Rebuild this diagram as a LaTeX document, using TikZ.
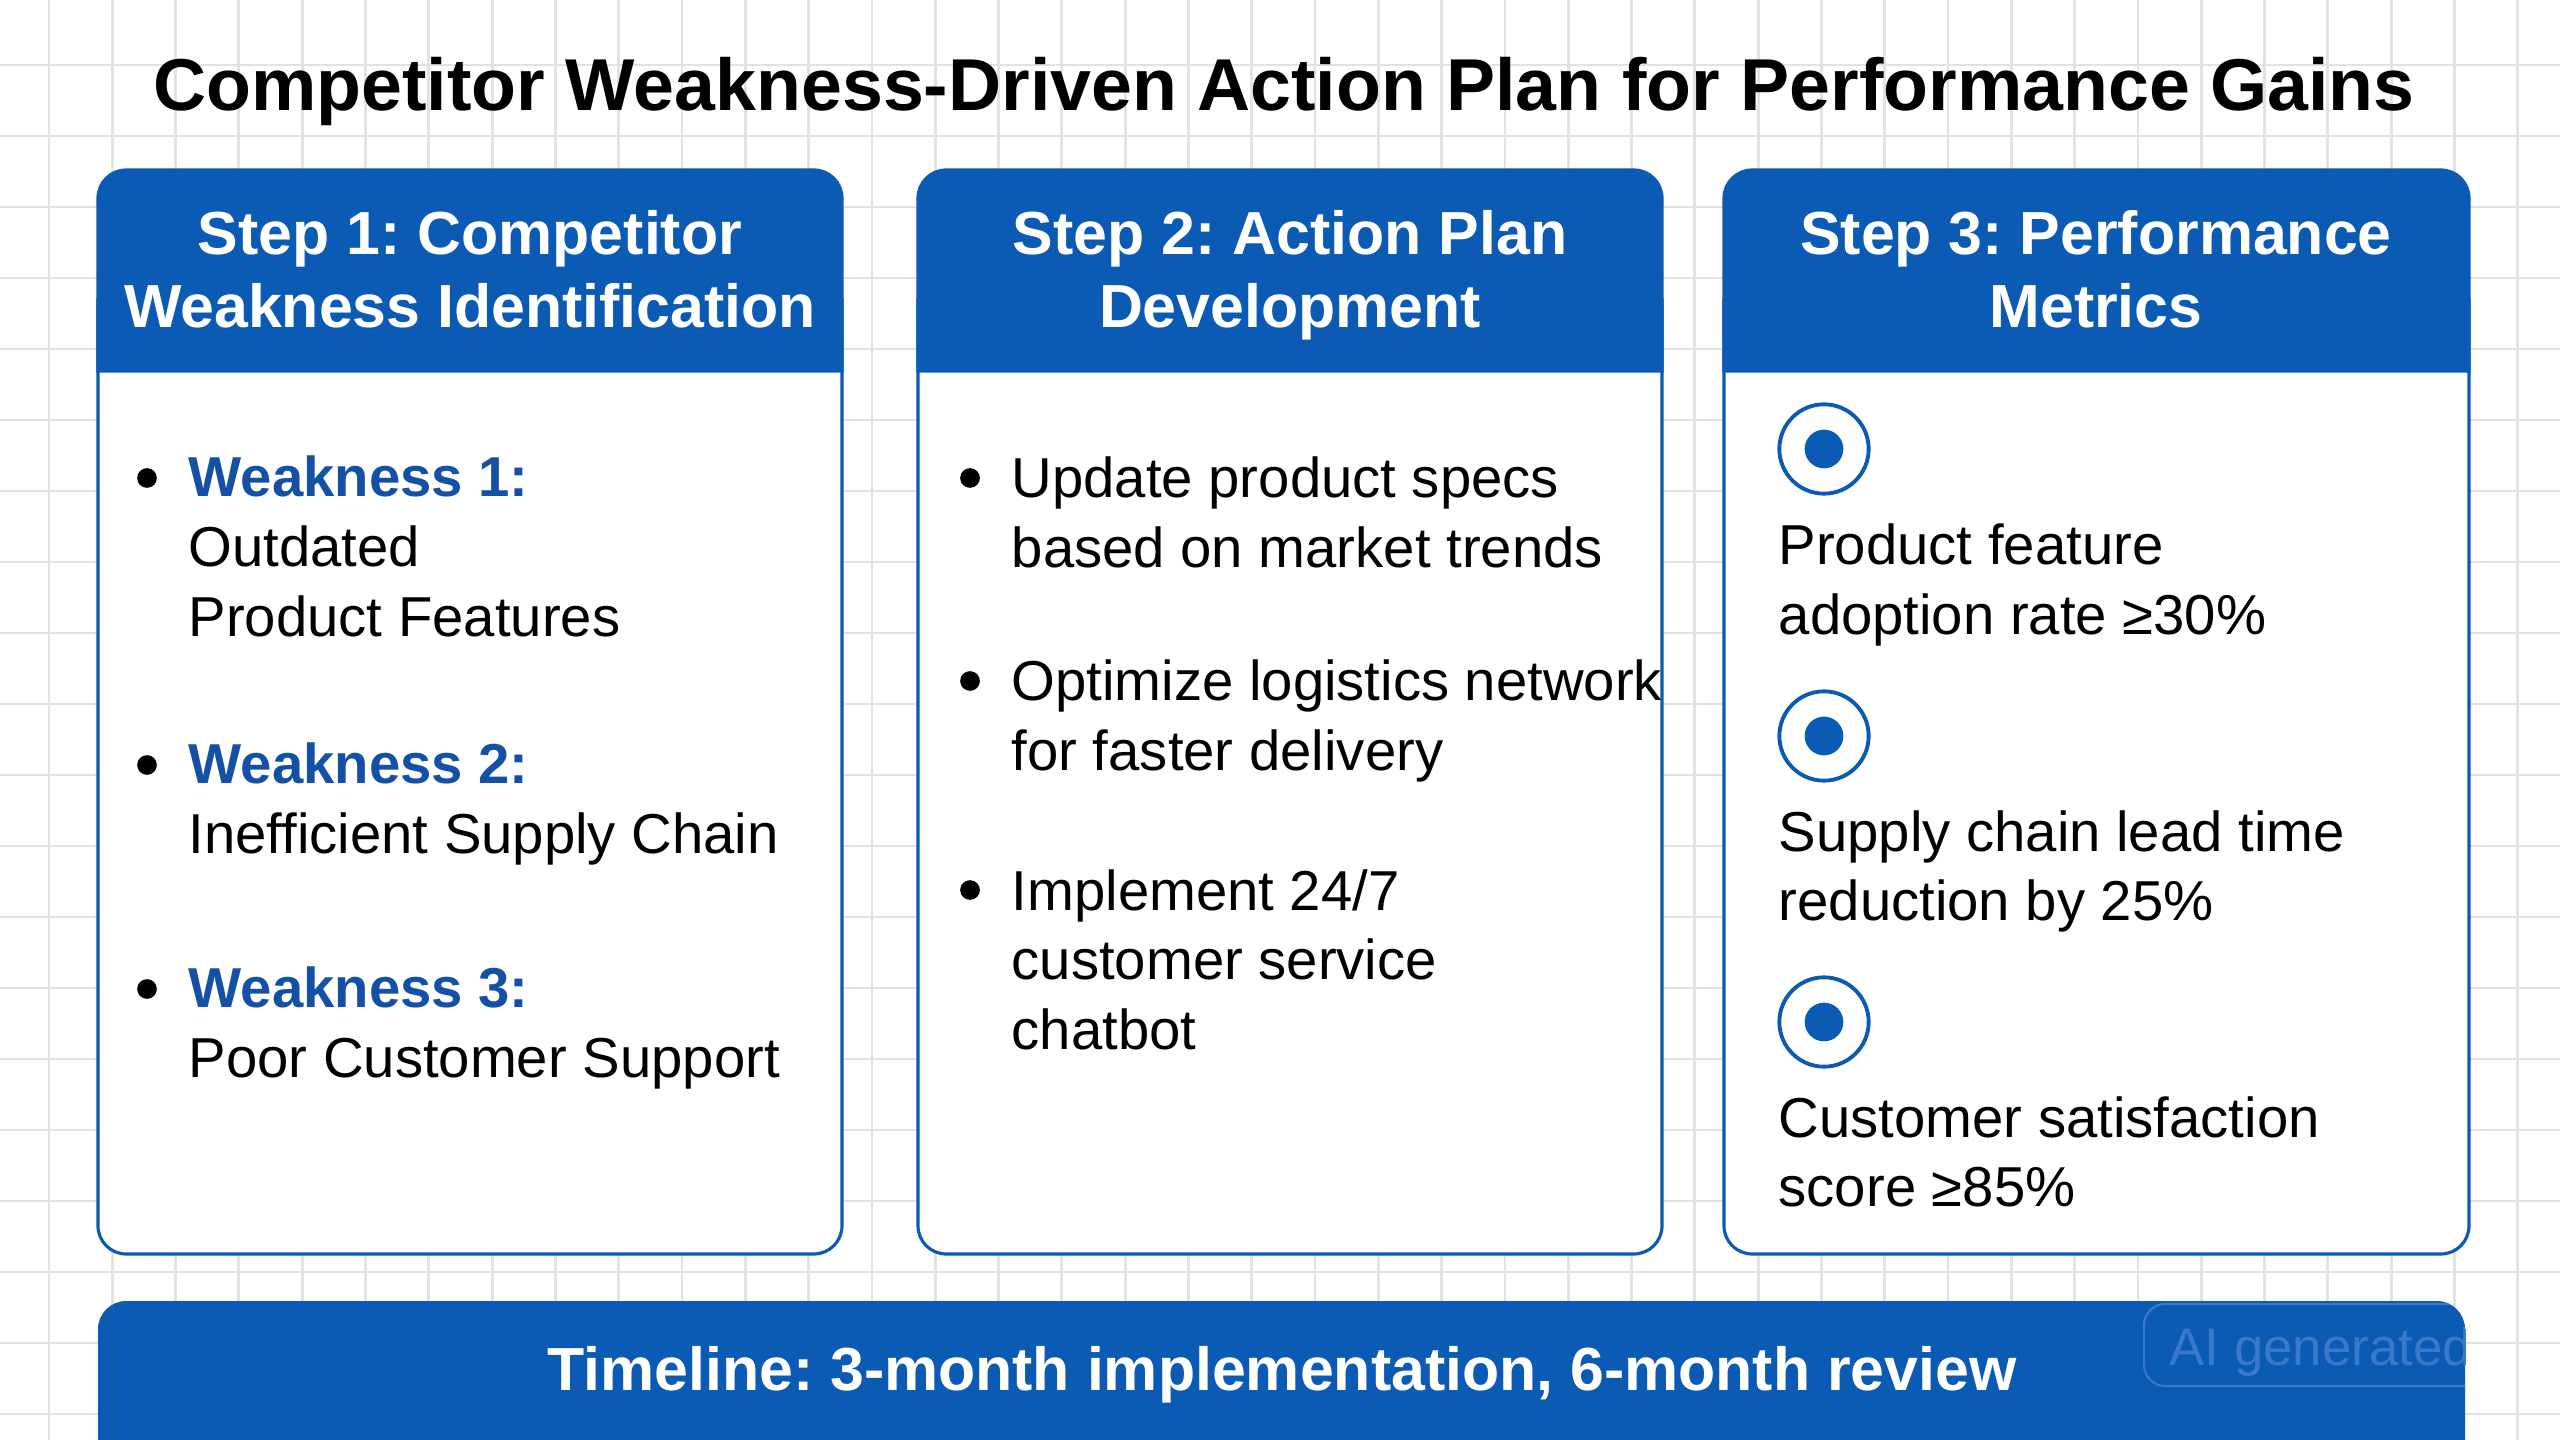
\documentclass[tikz,border=0pt]{standalone}
\usepackage{fontspec}
\setmainfont{Liberation Sans}
\frenchspacing
\definecolor{hdrblue}{HTML}{0B5AB4}
\definecolor{weakblue}{HTML}{1450A6}
\definecolor{gridgray}{HTML}{E2E2E2}
\definecolor{wmblue}{HTML}{3A78CC}
\newcommand\mlinesl[1]{\begin{tabular}[t]{@{}l@{}}#1\end{tabular}}
\newcommand\mlinesc[1]{\begin{tabular}[t]{@{}c@{}}#1\end{tabular}}
\tikzset{
  bodytxt/.style={anchor=base west, inner sep=0pt, font=\fontsize{16}{19.9}\selectfont},
  hdrtxt/.style={anchor=base, inner sep=0pt, text=white, font=\bfseries\fontsize{17.3}{20.5}\selectfont},
  bulletdot/.style={circle, fill=black, inner sep=0pt, minimum size=5.6pt},
  ring/.style={circle, draw=hdrblue, line width=1.1pt, fill=white, inner sep=0pt, minimum size=25.4pt},
  ringdot/.style={circle, fill=hdrblue, inner sep=0pt, minimum size=11pt},
  panel/.style={draw=hdrblue, line width=0.9pt, fill=white},
  hdrfill/.style={draw=hdrblue, fill=hdrblue, line width=0.9pt},
  gridline/.style={draw=gridgray, line width=0.8pt}
}
\begin{document}
\begin{tikzpicture}[x=0.01cm,y=-0.01cm]
\useasboundingbox (0,0) rectangle (2560,1440);
\clip (0,0) rectangle (2560,1440);
\fill[white] (0,0) rectangle (2560,1440);
% grid
\foreach \i in {0,...,40} { \draw[gridline] ({49+63.3*\i},0) -- ({49+63.3*\i},1440); }
\foreach \j in {0,...,20} { \draw[gridline] (0,{65+71*\j}) -- (2560,{65+71*\j}); }
% title
\node[anchor=base, inner sep=0pt, font=\bfseries\fontsize{20.9}{24}\selectfont] (title) at (1284,111) {Competitor Weakness-Driven Action Plan for Performance Gains};
% panels
\foreach \xa/\xb/\nm in {98/842/p1, 918/1662/p2, 1724/2469/p3} {
  \draw[panel] (\xa,300) [rounded corners=8pt]-- (\xa,1254) -- (\xb,1254) [sharp corners]-- (\xb,300) -- cycle;
  \filldraw[hdrfill] (\xa,371) [rounded corners=8pt]-- (\xa,170) -- (\xb,170) [sharp corners]-- (\xb,371) -- cycle;
}
% headers
\node[hdrtxt] (h1) at (470,255) {\mlinesc{Step 1: Competitor\\Weakness Identification}};
\node[hdrtxt] (h2) at (1290,255) {\mlinesc{Step 2: Action Plan\\Development}};
\node[hdrtxt] (h3) at (2096,255) {\mlinesc{Step 3: Performance\\Metrics}};
% column 1
\node[bulletdot] (b11) at (147,478) {};
\node[bulletdot] (b12) at (147,765) {};
\node[bulletdot] (b13) at (147,989) {};
\node[bodytxt] (w1) at (188,497) {\mlinesl{\textcolor{weakblue}{\bfseries Weakness 1:}\\Outdated\\Product Features}};
\node[bodytxt] (w2) at (188,784) {\mlinesl{\textcolor{weakblue}{\bfseries Weakness 2:}\\Inefficient Supply Chain}};
\node[bodytxt] (w3) at (188,1008) {\mlinesl{\textcolor{weakblue}{\bfseries Weakness 3:}\\Poor Customer Support}};
% column 2
\node[bulletdot] (b21) at (970,478) {};
\node[bulletdot] (b22) at (970,681) {};
\node[bulletdot] (b23) at (970,890) {};
\node[bodytxt] (a1) at (1011,498) {\mlinesl{Update product specs\\based on market trends}};
\node[bodytxt] (a2) at (1011,701) {\mlinesl{Optimize logistics network\\for faster delivery}};
\node[bodytxt] (a3) at (1011,910) {\mlinesl{Implement 24/7\\customer service\\chatbot}};
% column 3
\foreach \yy/\nm in {449/r1, 736/r2, 1022/r3} {
  \node[ring] (\nm) at (1824,\yy) {};
  \node[ringdot] (\nm d) at (1824,\yy) {};
}
\node[bodytxt] (m1) at (1778,565) {\mlinesl{Product feature\\adoption rate ≥30\%}};
\node[bodytxt] (m2) at (1778,851) {\mlinesl{Supply chain lead time\\reduction by 25\%}};
\node[bodytxt] (m3) at (1778,1137) {\mlinesl{Customer satisfaction\\score ≥85\%}};
% banner
\fill[hdrblue] (98,1470) [rounded corners=8pt]-- (98,1301) -- (2465,1301) [sharp corners]-- (2465,1470) -- cycle;
\node[anchor=base, inner sep=0pt, text=white, font=\bfseries\fontsize{17.3}{20}\selectfont] (timeline) at (1282,1390) {Timeline: 3-month implementation, 6-month review};
\begin{scope}
  \clip (98,1470) [rounded corners=8pt]-- (98,1301) -- (2465,1301) [sharp corners]-- (2465,1470) -- cycle;
  \draw[wmblue, line width=0.6pt, rounded corners=6pt] (2144,1304) rectangle (2560,1386);
  \node[anchor=base west, inner sep=0pt, text=wmblue, font=\fontsize{15}{18}\selectfont] (wm) at (2169,1365) {AI generated};
\end{scope}
\end{tikzpicture}
\end{document}
